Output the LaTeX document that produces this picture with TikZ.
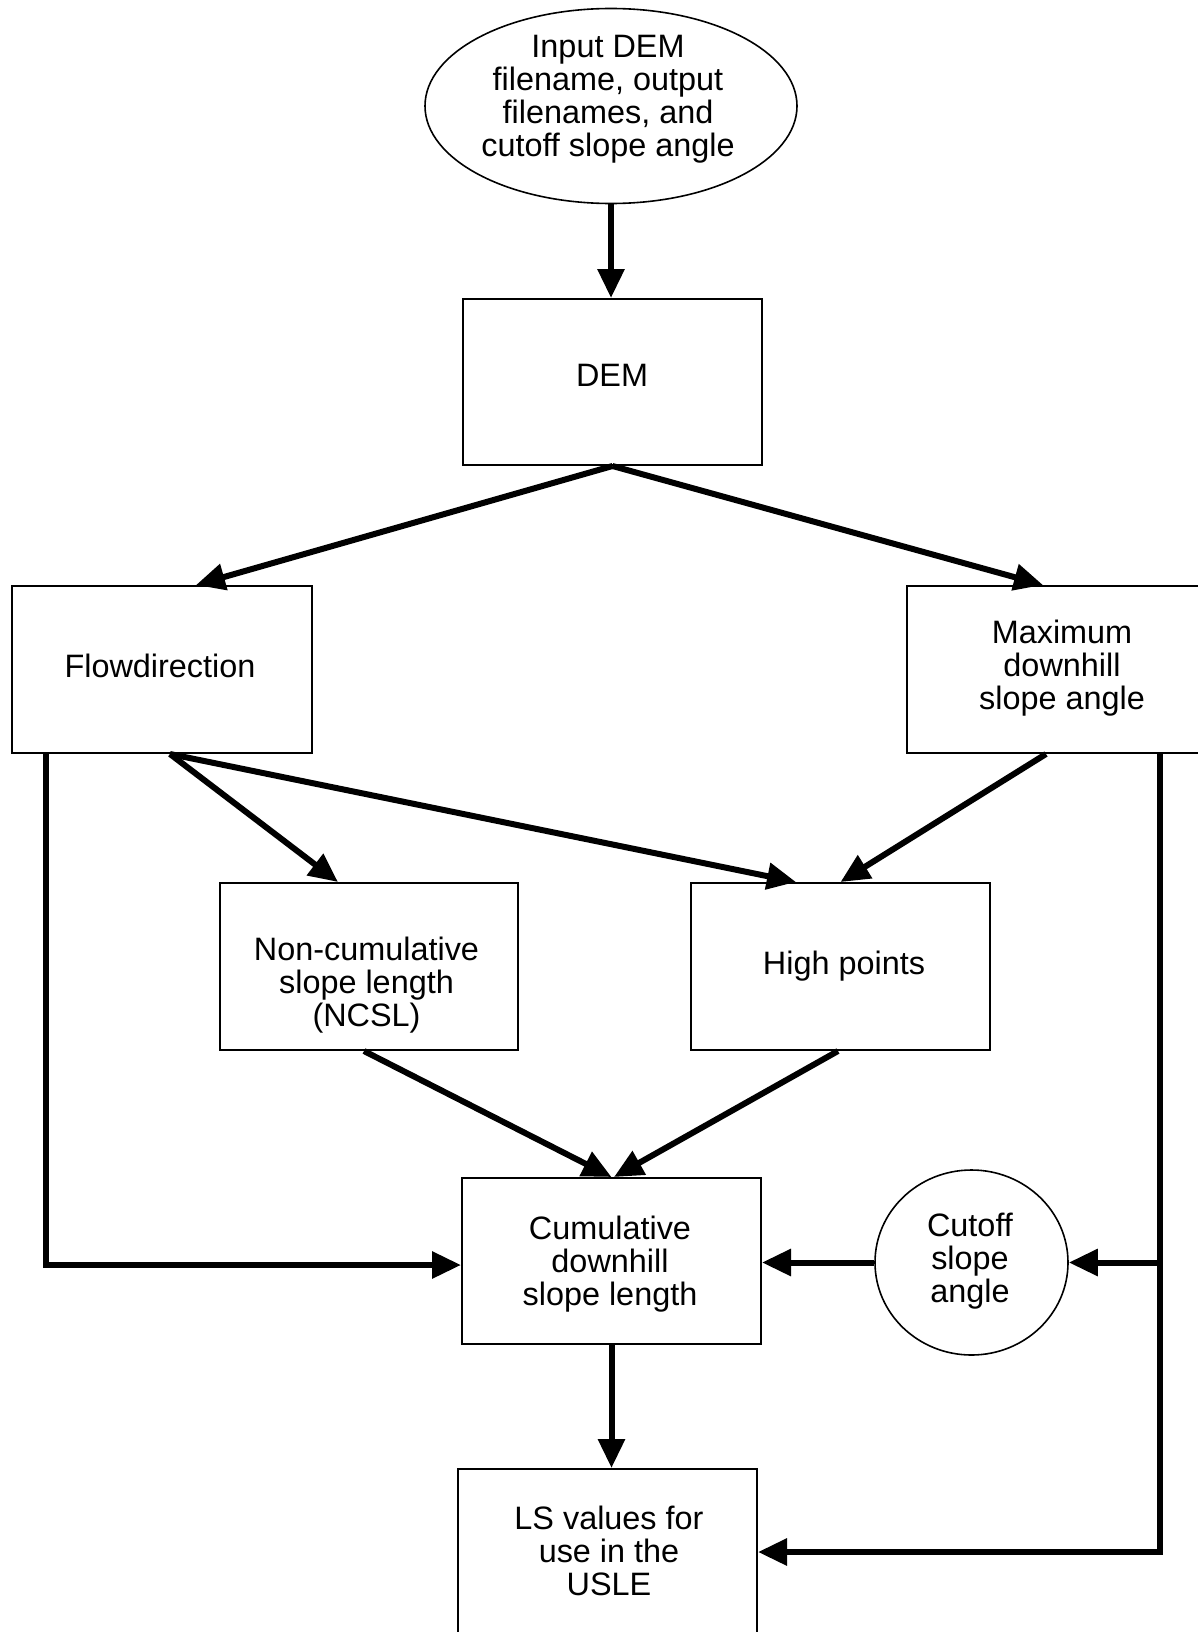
\documentclass[tikz,border=0pt]{standalone}
\usepackage{fontspec}
\setmainfont{Liberation Sans}
\usetikzlibrary{arrows.meta,shapes.geometric,calc}
\begin{document}
\begin{tikzpicture}[x=0.5pt,y=-0.5pt,
  boxshape/.style={draw,line width=1pt,rectangle,inner sep=0pt,minimum width=149.5pt,minimum height=83pt},
  ovalshape/.style={draw,line width=0.8pt,ellipse,inner sep=0pt},
  txt/.style={inner sep=0pt,align=center,font=\fontsize{16.2pt}{16.5pt}\selectfont},
  arr/.style={line width=3pt,-{Triangle[length=14.5pt,width=13pt]}},
  plain/.style={line width=3pt}]
\useasboundingbox (0,0) rectangle (1198,1632);
% shapes
\node[ovalshape,minimum width=186pt,minimum height=97.5pt] (input) at (611,106) {};
\node[boxshape] (dem) at (612.5,382) {};
\node[boxshape,minimum width=150pt,minimum height=83.5pt] (flow) at (162,669.5) {};
\node[boxshape,minimum width=150pt,minimum height=83.5pt] (maxd) at (1057,669.5) {};
\node[boxshape,minimum width=149pt,minimum height=83.5pt] (ncsl) at (368.5,966.5) {};
\node[boxshape,minimum width=149.5pt,minimum height=83.5pt] (high) at (840.5,966.5) {};
\node[boxshape] (cum) at (611.5,1261) {};
\node[ovalshape,minimum width=96.5pt,minimum height=92.5pt] (cut) at (971.5,1262.5) {};
\node[boxshape] (ls) at (607.5,1552) {};
% texts
\node[txt] (inputtext) at (608,99) {Input DEM\\filename, output\\filenames, and\\cutoff slope angle};
\node[txt] (demtext) at (612,375) {DEM};
\node[txt] (flowtext) at (160,666) {Flowdirection};
\node[txt] (maxdtext) at (1062,668) {Maximum\\downhill\\slope angle};
\node[txt] (ncsltext) at (366.5,985) {Non-cumulative\\slope length\\(NCSL)};
\node[txt] (hightext) at (844,966) {High points};
\node[txt] (cumtext) at (610,1264.5) {Cumulative\\downhill\\slope length};
\node[txt] (cuttext) at (970,1261.5) {Cutoff\\slope\\angle};
\node[txt] (lstext) at (609,1551) {LS values for\\use in the\\USLE};
% connectors
\draw[arr] (input.south) -- (input.south |- dem.north);
\draw[arr] (dem.south) -- ([xshift=17pt]flow.north);
\draw[arr] (dem.south) -- ([xshift=-7pt]maxd.north);
\draw[arr] ([xshift=4pt]flow.south) -- ([xshift=-15.25pt]ncsl.north);
\draw[arr] ([xshift=4pt]flow.south) -- ([xshift=-22.25pt]high.north);
\draw[arr] ([xshift=-5.5pt]maxd.south) -- (high.north);
\draw[arr] ([xshift=-2.25pt]ncsl.south) -- (cum.north);
\draw[arr] ([xshift=-1.25pt]high.south) -- ([xshift=1.25pt]cum.north);
\draw[arr] ([xshift=17.5pt]flow.south west) |- ([yshift=-2pt]cum.west);
\coordinate (rj) at ([xshift=127pt]maxd.south west);
\draw[arr] (rj) |- (ls.east);
\draw[arr] (rj |- cut.east) -- (cut.east);
\draw[arr] (cut.west) -- (cut.west -| cum.east);
\draw[arr] (cum.south) -- (cum.south |- ls.north);
\end{tikzpicture}
\end{document}
